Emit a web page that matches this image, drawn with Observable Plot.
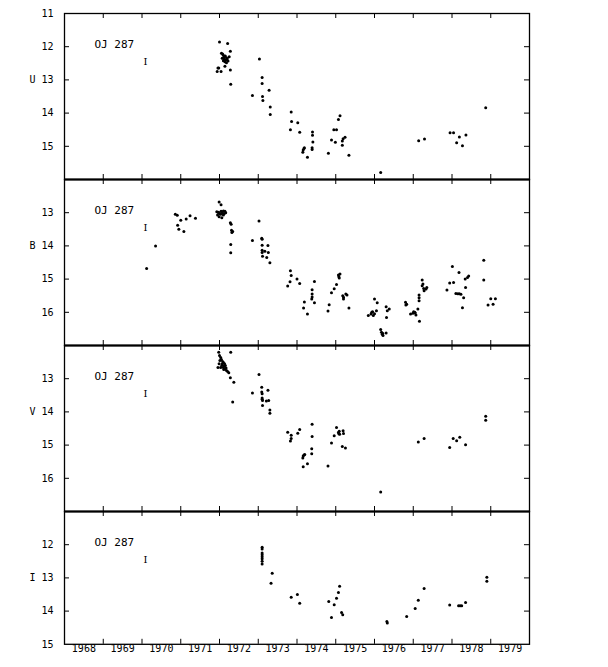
<!DOCTYPE html>
<html><head><meta charset="utf-8">
<script src="https://cdn.jsdelivr.net/npm/d3@7"></script>
<script src="https://cdn.jsdelivr.net/npm/@observablehq/plot@0.6"></script>
<style>
body{margin:0;background:#fff;}
#chart{position:relative;width:608px;height:667px;background:#fff;}
#chart svg{position:absolute;left:0;overflow:visible;}
</style></head><body><div id="chart"></div><script>
// [year, magnitude]
const uData = [
[1972.00,11.86],[1972.21,11.90],[1972.28,12.14],
[1972.05,12.20],[1972.08,12.22],[1972.10,12.26],[1972.12,12.30],[1972.15,12.28],[1972.18,12.33],[1972.07,12.35],[1972.12,12.38],[1972.16,12.40],[1972.20,12.36],[1972.22,12.43],[1972.14,12.45],[1972.18,12.48],[1972.10,12.42],[1972.25,12.30],
[1971.96,12.64],[1971.98,12.64],[1971.94,12.75],[1972.04,12.75],[1972.14,12.59],[1972.28,12.70],[1972.29,13.13],
[1973.03,12.37],[1973.10,12.93],[1973.10,13.11],[1972.85,13.47],[1973.28,13.31],[1973.11,13.50],[1973.12,13.62],[1973.31,13.82],[1973.31,14.04],
[1973.85,13.97],[1973.86,14.25],[1974.02,14.29],[1973.83,14.50],[1974.07,14.58],
[1974.40,14.57],[1974.40,14.67],[1974.41,14.87],[1974.39,15.04],[1974.39,15.10],
[1974.15,15.18],[1974.16,15.11],[1974.18,15.07],[1974.19,15.04],[1974.27,15.33],
[1974.81,15.21],[1974.89,14.81],[1974.95,14.50],[1975.02,14.50],[1974.99,14.88],[1975.07,14.19],[1975.11,14.08],
[1975.17,14.84],[1975.19,14.77],[1975.24,14.73],[1975.17,14.97],[1975.34,15.27],
[1976.16,15.79],[1977.14,14.83],[1977.29,14.78],[1977.95,14.59],[1978.04,14.59],[1978.19,14.72],[1978.12,14.89],[1978.27,14.98],[1978.36,14.66],[1978.87,13.84]
];
const bData = [
[1970.12,14.68],[1970.35,14.00],
[1970.86,13.05],[1970.91,13.08],[1971.00,13.23],[1970.92,13.38],[1970.95,13.50],[1971.08,13.57],[1971.14,13.19],[1971.24,13.09],[1971.38,13.17],
[1971.99,12.68],[1972.04,12.76],[1971.93,12.97],[1971.95,13.07],[1971.98,13.00],[1972.04,12.96],[1972.06,12.98],[1972.10,12.95],[1972.14,12.96],[1971.99,13.12],[1972.06,13.15],[1972.10,13.07],[1972.03,13.05],[1972.12,13.03],[1971.97,12.99],[1972.08,13.02],[1972.16,13.00],[1972.01,13.03],
[1972.28,13.30],[1972.30,13.35],[1972.31,13.53],[1972.34,13.57],[1972.32,13.60],[1972.29,13.96],[1972.29,14.21],
[1973.02,13.25],[1972.85,13.84],[1973.09,13.77],[1973.10,13.80],[1973.10,13.98],[1973.10,14.13],[1973.10,14.20],[1973.17,14.16],[1973.25,13.99],[1973.26,14.20],[1973.11,14.31],[1973.22,14.35],[1973.30,14.51],
[1973.83,14.75],[1973.85,14.89],[1973.82,15.08],[1973.76,15.21],[1974.00,15.00],[1974.07,15.13],
[1974.45,15.07],[1974.39,15.32],[1974.39,15.45],[1974.39,15.54],[1974.38,15.60],[1974.45,15.71],[1974.19,15.69],[1974.17,15.87],[1974.27,16.05],
[1974.80,15.96],[1974.83,15.77],[1974.89,15.41],[1974.96,15.29],[1975.02,15.16],[1975.07,14.88],[1975.09,14.97],[1975.08,14.93],[1975.11,14.85],
[1975.18,15.50],[1975.20,15.55],[1975.20,15.60],[1975.26,15.45],[1975.29,15.48],[1975.34,15.87],
[1975.84,16.10],[1975.93,16.00],[1975.97,16.10],[1975.95,15.98],[1976.00,16.04],[1976.05,15.95],[1975.91,16.05],[1976.00,15.60],[1976.07,15.71],
[1976.16,16.52],[1976.18,16.60],[1976.20,16.66],[1976.22,16.70],[1976.21,16.63],[1976.30,16.62],
[1976.30,15.83],[1976.33,15.95],[1976.38,15.90],[1976.31,16.16],
[1976.80,15.70],[1976.81,15.78],[1976.83,15.76],
[1976.93,16.05],[1977.01,15.98],[1977.05,16.02],[1976.99,16.03],[1977.07,16.08],[1977.16,16.27],[1977.12,15.90],[1977.04,16.00],
[1977.15,15.65],[1977.15,15.56],[1977.15,15.48],
[1977.23,15.03],[1977.23,15.20],[1977.25,15.15],[1977.27,15.28],[1977.33,15.30],[1977.35,15.25],[1977.28,15.35],
[1977.87,15.33],[1977.94,15.12],[1978.04,15.10],[1978.01,14.62],[1978.18,14.80],
[1978.10,15.43],[1978.15,15.44],[1978.19,15.44],[1978.23,15.46],[1978.27,15.86],[1978.30,15.56],[1978.35,15.25],[1978.34,15.00],[1978.40,14.95],[1978.43,14.91],
[1978.82,14.43],[1978.82,15.03],[1978.93,15.78],[1979.00,15.59],[1979.06,15.76],[1979.12,15.59]
];
const vData = [
[1971.98,12.20],[1972.29,12.20],[1972.00,12.30],[1972.03,12.36],[1972.05,12.42],[1972.08,12.48],[1972.10,12.51],[1971.99,12.55],[1971.96,12.66],[1972.03,12.66],[1972.06,12.60],[1972.10,12.66],[1972.12,12.62],[1972.14,12.70],[1972.17,12.68],[1972.18,12.75],[1972.21,12.78],[1972.24,12.82],[1972.07,12.56],[1972.13,12.55],[1972.01,12.45],[1972.15,12.60],[1972.11,12.72],
[1972.28,12.97],[1972.37,13.11],[1972.34,13.70],
[1973.02,12.87],[1972.85,13.43],[1973.09,13.26],[1973.09,13.40],[1973.10,13.45],[1973.10,13.58],[1973.10,13.62],[1973.11,13.66],[1973.25,13.35],[1973.21,13.67],[1973.27,13.66],[1973.11,13.81],[1973.30,13.94],[1973.30,14.04],
[1973.76,14.61],[1973.85,14.70],[1973.85,14.80],[1973.83,14.88],[1974.02,14.64],[1974.07,14.53],
[1974.39,14.37],[1974.39,14.74],[1974.38,15.11],[1974.38,15.26],
[1974.15,15.39],[1974.16,15.33],[1974.18,15.30],[1974.20,15.28],[1974.16,15.65],[1974.27,15.56],
[1974.80,15.63],[1974.89,14.94],[1974.96,14.72],[1975.02,14.47],[1975.07,14.62],[1975.09,14.58],[1975.10,14.67],[1975.08,14.66],[1975.19,14.57],[1975.20,14.65],[1975.17,15.04],[1975.25,15.09],
[1976.16,16.41],[1977.13,14.91],[1977.28,14.80],[1977.94,15.07],[1978.03,14.80],[1978.12,14.87],[1978.20,14.76],[1978.35,14.99],[1978.87,14.13],[1978.87,14.25]
];
const iData = [
[1973.10,12.08],[1973.10,12.13],[1973.10,12.25],[1973.10,12.30],[1973.10,12.36],[1973.10,12.42],[1973.10,12.50],[1973.10,12.58],
[1973.36,12.86],[1973.33,13.16],[1973.85,13.58],[1974.01,13.50],[1974.07,13.76],
[1974.82,13.71],[1974.96,13.81],[1974.89,14.19],[1975.02,13.61],[1975.07,13.44],[1975.10,13.25],[1975.15,14.04],[1975.18,14.11],
[1976.32,14.31],[1976.33,14.36],[1976.83,14.16],[1977.05,13.92],[1977.13,13.67],[1977.28,13.32],
[1977.94,13.82],[1978.17,13.84],[1978.21,13.84],[1978.25,13.84],[1978.35,13.74],[1978.90,12.98],[1978.90,13.10]
];
const yearLabels = [1968,1969,1970,1971,1972,1973,1974,1975,1976,1977,1978,1979];
const yearTicks = [1969,1970,1971,1972,1973,1974,1975,1976,1977,1978,1979];
const bands = ["U","B","V","I"];
const bandData = [uData, bData, vData, iData];
const magDomains = [[11,16],[12,17],[12,17],[11,15]];
const magTicks = [[12,13,14,15],[13,14,15,16],[13,14,15,16],[12,13,14]];
const magLabels = [[11,12,13,14,15],[13,14,15,16],[13,14,15,16],[12,13,14,15]];
const bandLabelMag = [13,14,14,13];
const sourceName = "OJ 287";

const chart = document.getElementById("chart");
const mono = "'DejaVu Sans Mono', monospace";
const pxPerMag = 33.2;
const mL = 64, mR = 79, W = 608;
const innerW = W - mL - mR;
let panelTop = 13;
bands.forEach((band, i) => {
  const dom = magDomains[i];
  const h = (dom[1] - dom[0]) * pxPerMag;
  const last = i === bands.length - 1;
  const mt = 8, mb = last ? 24 : 8;
  const marks = [
    Plot.ruleX(yearTicks, {x: d => d, insetTop: h - 5, stroke: "#000", strokeWidth: 1}),
    Plot.ruleX(yearTicks, {x: d => d, insetBottom: h - 5, stroke: "#000", strokeWidth: 1}),
    Plot.ruleY(magTicks[i], {y: d => d, insetRight: innerW - 5, stroke: "#000", strokeWidth: 1}),
    Plot.ruleY(magTicks[i], {y: d => d, insetLeft: innerW - 5, stroke: "#000", strokeWidth: 1}),
    Plot.frame({stroke: "#000", strokeWidth: 1.3}),
    Plot.axisY(magLabels[i], {anchor: "left", tickSize: 0, tickPadding: 11, label: null, fontSize: 10, fontFamily: mono}),
    Plot.text([band], {frameAnchor: "left", y: () => bandLabelMag[i], dx: -35, text: d => d, fontSize: 10, fontFamily: mono}),
    Plot.text([sourceName], {frameAnchor: "top-left", dx: 30, dy: 27, textAnchor: "start", text: d => d, fontSize: 11, fontFamily: mono}),
    Plot.text(["I"], {frameAnchor: "top-left", dx: 79, dy: 44, text: d => d, fontSize: 10, fontFamily: "'DejaVu Serif', serif"}),
    Plot.dot(bandData[i], {x: d => d[0], y: d => d[1], r: 1.5, fill: "#000", stroke: null})
  ];
  if (!last) {
    marks.push(Plot.ruleY([dom[1]], {y: d => d, stroke: "#000", strokeWidth: 2.2}));
  }
  if (last) {
    marks.push(Plot.text(yearLabels, {x: d => d + 0.5, frameAnchor: "bottom", dy: 8, text: d => String(d), fontSize: 10, fontFamily: mono}));
  }
  const plot = Plot.plot({
    width: W, height: mt + h + mb,
    marginTop: mt, marginBottom: mb, marginLeft: mL, marginRight: mR,
    style: {background: "transparent", overflow: "visible", color: "#000", fontFamily: mono, fontSize: "10px"},
    x: {domain: [1968, 1980], axis: null},
    y: {domain: dom, reverse: true, axis: null},
    marks
  });
  plot.style.top = (panelTop - mt) + "px";
  chart.appendChild(plot);
  panelTop += h;
});
</script></body></html>
